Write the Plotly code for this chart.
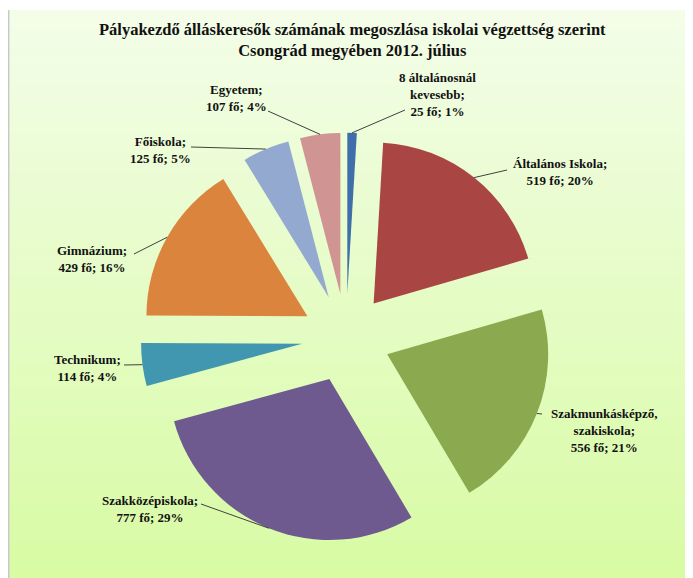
import math
import plotly.graph_objects as go

# ---- data ----
categories = ["8 általánosnál kevesebb", "Általános Iskola", "Szakmunkásképző, szakiskola",
              "Szakközépiskola", "Technikum", "Gimnázium", "Főiskola", "Egyetem"]
label_texts = ["8 általánosnál<br>kevesebb;<br>25 fő; 1%",
               "Általános Iskola;<br>519 fő; 20%",
               "Szakmunkásképző,<br>szakiskola;<br>556 fő; 21%",
               "Szakközépiskola;<br>777 fő; 29%",
               "Technikum;<br>114 fő; 4%",
               "Gimnázium;<br>429 fő; 16%",
               "Főiskola;<br>125 fő; 5%",
               "Egyetem;<br>107 fő; 4%"]
values = [25, 519, 556, 777, 114, 429, 125, 107]
colors = ["#3F6EAA", "#A94644", "#8BA94E", "#6F5A8F", "#4197B0", "#DB843D", "#93A9D0", "#D09493"]

title_text = ("Pályakezdő álláskeresők számának megoszlása iskolai végzettség szerint<br>"
              "Csongrád megyében 2012. július")

# ---- layout geometry (screen pixels; page body has an 8px margin) ----
OFF = 8
W, H = 693 - OFF, 578 - OFF
CX, CY = 346, 338          # pie centre (screen)
R = 161                    # pie radius
PULL = 0.275               # explode fraction
half = R * (1 + PULL)

def px(x):
    return (x - OFF) / W

def py(y):
    return 1 - (y - OFF) / H

dom_x = [px(CX - half), px(CX + half)]
dom_y = [py(CY + half), py(CY - half)]

# label block centres and leader-line start points (screen pixels)
label_pos = [(437, 94), (560, 172), (604, 430), (150, 509), (87, 368), (92, 259), (160, 150), (236, 98)]
line_start = [(405, 110), (507, 170), (542, 414), (201, 504), (124, 365), (134, 254), (191, 147), (268, 111)]

fig = go.Figure()
fig.add_trace(go.Pie(
    labels=categories, values=values, sort=False, direction="clockwise", rotation=0,
    pull=[PULL] * len(values), marker=dict(colors=colors, line=dict(width=0)),
    textinfo="none", hoverinfo="label+value+percent", showlegend=False,
    domain=dict(x=dom_x, y=dom_y),
))

shapes = []
# gradient background of chart area
x0s, y0s = 8, 10
n = 60
c_top = (0xF3, 0xFD, 0xE8)
c_bot = (0xD8, 0xFB, 0xA4)
for i in range(n):
    t = i / (n - 1)
    c = tuple(round(c_top[k] + (c_bot[k] - c_top[k]) * t) for k in range(3))
    ya = y0s + (578 - y0s) * i / n
    yb = min(y0s + (578 - y0s) * (i + 1) / n + 0.5, 578)
    shapes.append(dict(type="rect", xref="paper", yref="paper", layer="below",
                       x0=px(x0s), x1=1, y0=py(yb), y1=py(ya),
                       line=dict(width=0), fillcolor="rgb(%d,%d,%d)" % c))
# left border of chart area
shapes.append(dict(type="line", xref="paper", yref="paper", layer="below",
                   x0=px(x0s) + 0.001, x1=px(x0s) + 0.001, y0=0, y1=py(y0s),
                   line=dict(color="#C8C8CC", width=1.5)))

# leader lines to slice edges (end point from slice angles)
total = sum(values)
cum = 0
annotations = []
for i, v in enumerate(values):
    a0 = cum / total * 2 * math.pi
    a1 = (cum + v) / total * 2 * math.pi
    cum += v
    mid = (a0 + a1) / 2
    ex = CX + (R * PULL + R) * math.sin(mid)
    ey = CY - (R * PULL + R) * math.cos(mid)
    sx, sy = line_start[i]
    shapes.append(dict(type="line", xref="paper", yref="paper",
                       x0=px(sx), y0=py(sy), x1=px(ex), y1=py(ey),
                       line=dict(color="#404040", width=1)))
    lx, ly = label_pos[i]
    annotations.append(dict(text="<b>" + label_texts[i] + "</b>", x=px(lx), y=py(ly),
                            xref="paper", yref="paper",
                            xanchor="center", yanchor="middle", align="center", showarrow=False,
                            font=dict(family="Liberation Serif", size=13, color="#111111")))

annotations.append(dict(text="<b>" + title_text + "</b>", x=px(352), y=py(40), xref="paper", yref="paper",
                        xanchor="center", yanchor="middle", align="center", showarrow=False,
                        font=dict(family="Liberation Serif", size=16.5, color="#111111")))

fig.update_layout(
    width=W, height=H, margin=dict(l=0, r=0, t=0, b=0),
    paper_bgcolor="white", plot_bgcolor="rgba(0,0,0,0)",
    shapes=shapes, annotations=annotations,
)
fig.write_html("out.html")
